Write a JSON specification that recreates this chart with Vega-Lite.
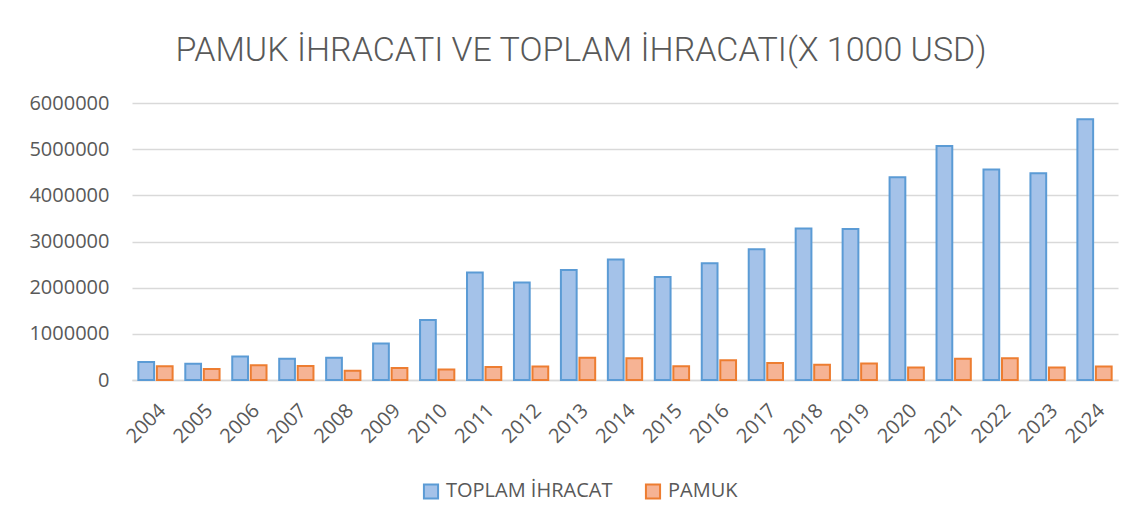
{
  "$schema": "https://vega.github.io/schema/vega-lite/v6.json",
  "width": 986,
  "height": 277,
  "autosize": {"type": "none"},
  "padding": {"left": 132, "top": 103, "right": 25, "bottom": 149},
  "background": "white",
  "title": {
    "text": "PAMUK İHRACATI VE TOPLAM İHRACATI(X 1000 USD)",
    "font": "Roboto",
    "fontWeight": 300,
    "fontSize": 34,
    "color": "#595959",
    "anchor": "middle",
    "dx": -44,
    "offset": 25
  },
  "data": {
    "values": [
      {"year": "2004", "series": "TOPLAM İHRACAT", "value": 390000},
      {"year": "2004", "series": "PAMUK", "value": 300000},
      {"year": "2005", "series": "TOPLAM İHRACAT", "value": 350000},
      {"year": "2005", "series": "PAMUK", "value": 240000},
      {"year": "2006", "series": "TOPLAM İHRACAT", "value": 510000},
      {"year": "2006", "series": "PAMUK", "value": 320000},
      {"year": "2007", "series": "TOPLAM İHRACAT", "value": 460000},
      {"year": "2007", "series": "PAMUK", "value": 305000},
      {"year": "2008", "series": "TOPLAM İHRACAT", "value": 480000},
      {"year": "2008", "series": "PAMUK", "value": 200000},
      {"year": "2009", "series": "TOPLAM İHRACAT", "value": 790000},
      {"year": "2009", "series": "PAMUK", "value": 260000},
      {"year": "2010", "series": "TOPLAM İHRACAT", "value": 1300000},
      {"year": "2010", "series": "PAMUK", "value": 230000},
      {"year": "2011", "series": "TOPLAM İHRACAT", "value": 2330000},
      {"year": "2011", "series": "PAMUK", "value": 280000},
      {"year": "2012", "series": "TOPLAM İHRACAT", "value": 2110000},
      {"year": "2012", "series": "PAMUK", "value": 290000},
      {"year": "2013", "series": "TOPLAM İHRACAT", "value": 2380000},
      {"year": "2013", "series": "PAMUK", "value": 480000},
      {"year": "2014", "series": "TOPLAM İHRACAT", "value": 2610000},
      {"year": "2014", "series": "PAMUK", "value": 470000},
      {"year": "2015", "series": "TOPLAM İHRACAT", "value": 2230000},
      {"year": "2015", "series": "PAMUK", "value": 300000},
      {"year": "2016", "series": "TOPLAM İHRACAT", "value": 2530000},
      {"year": "2016", "series": "PAMUK", "value": 430000},
      {"year": "2017", "series": "TOPLAM İHRACAT", "value": 2830000},
      {"year": "2017", "series": "PAMUK", "value": 370000},
      {"year": "2018", "series": "TOPLAM İHRACAT", "value": 3280000},
      {"year": "2018", "series": "PAMUK", "value": 330000},
      {"year": "2019", "series": "TOPLAM İHRACAT", "value": 3270000},
      {"year": "2019", "series": "PAMUK", "value": 360000},
      {"year": "2020", "series": "TOPLAM İHRACAT", "value": 4390000},
      {"year": "2020", "series": "PAMUK", "value": 270000},
      {"year": "2021", "series": "TOPLAM İHRACAT", "value": 5070000},
      {"year": "2021", "series": "PAMUK", "value": 460000},
      {"year": "2022", "series": "TOPLAM İHRACAT", "value": 4560000},
      {"year": "2022", "series": "PAMUK", "value": 470000},
      {"year": "2023", "series": "TOPLAM İHRACAT", "value": 4480000},
      {"year": "2023", "series": "PAMUK", "value": 270000},
      {"year": "2024", "series": "TOPLAM İHRACAT", "value": 5650000},
      {"year": "2024", "series": "PAMUK", "value": 290000}
    ]
  },
  "mark": {"type": "bar", "strokeWidth": 2},
  "encoding": {
    "x": {
      "field": "year",
      "type": "nominal",
      "scale": {"paddingInner": 0.27, "paddingOuter": 0.135},
      "axis": {
        "title": null,
        "labelAngle": -45,
        "ticks": false,
        "domainColor": "#D9D9D9",
        "domainWidth": 1.5,
        "labelFont": "Open Sans",
        "labelFontSize": 20,
        "labelColor": "#595959",
        "labelPadding": 20
      }
    },
    "xOffset": {
      "field": "series",
      "type": "nominal",
      "sort": ["TOPLAM İHRACAT", "PAMUK"],
      "scale": {"paddingInner": 0.15}
    },
    "y": {
      "field": "value",
      "type": "quantitative",
      "scale": {"domain": [0, 6000000]},
      "axis": {
        "title": null,
        "values": [0, 1000000, 2000000, 3000000, 4000000, 5000000, 6000000],
        "format": "d",
        "domain": false,
        "ticks": false,
        "gridColor": "#D9D9D9",
        "gridWidth": 1.5,
        "labelFont": "Open Sans",
        "labelFontSize": 20,
        "labelColor": "#595959",
        "labelPadding": 23
      }
    },
    "color": {
      "field": "series",
      "type": "nominal",
      "scale": {
        "domain": ["TOPLAM İHRACAT", "PAMUK"],
        "range": ["#A4C2E9", "#F6B394"]
      },
      "legend": {
        "title": null,
        "orient": "none",
        "legendX": 289,
        "legendY": 378,
        "direction": "horizontal",
        "symbolType": "square",
        "symbolSize": 200,
        "symbolStrokeWidth": 2,
        "symbolOpacity": 1,
        "labelFont": "Open Sans",
        "labelFontSize": 20,
        "labelColor": "#595959",
        "labelOffset": 5,
        "labelLimit": 400,
        "columnPadding": 28
      }
    },
    "stroke": {
      "field": "series",
      "type": "nominal",
      "scale": {"domain": ["TOPLAM İHRACAT", "PAMUK"], "range": ["#5B9BD5", "#ED7D31"]},
      "legend": {
        "title": null,
        "orient": "none",
        "legendX": 289,
        "legendY": 378,
        "direction": "horizontal",
        "symbolType": "square",
        "symbolSize": 200,
        "symbolStrokeWidth": 2,
        "symbolOpacity": 1,
        "labelFont": "Open Sans",
        "labelFontSize": 20,
        "labelColor": "#595959",
        "labelOffset": 5,
        "labelLimit": 400,
        "columnPadding": 28
      }
    }
  },
  "config": {"view": {"stroke": null}}
}
